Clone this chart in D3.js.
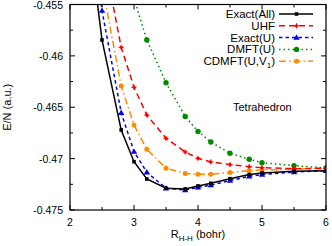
<!DOCTYPE html>
<html>
<head>
<meta charset="utf-8">
<script src="https://cdn.jsdelivr.net/npm/d3@7"></script>
<style>
  body { margin: 0; background: #fff; }
  text { font-family: "Liberation Sans", Arial, sans-serif; }
</style>
</head>
<body>
<svg width="332" height="246"></svg>
<script>
// distances (bohr)
var rAll  = [2.4, 2.5, 2.8, 3.0, 3.2, 3.5, 3.8, 4.0, 4.2, 4.5, 4.8, 5.0, 5.5, 6.0];
var rUHF  = [2.5, 2.8, 3.0, 3.2, 3.5, 3.8, 4.0, 4.2, 4.5, 4.8, 5.0, 5.5, 6.0];
var rDMFT = [3.0, 3.2, 3.5, 3.8, 4.0, 4.2, 4.5, 4.8, 5.0, 5.5, 6.0];
var rCD   = [2.5, 2.8, 3.0, 3.2, 3.5, 3.8, 4.0, 4.2, 4.5, 4.8, 5.0, 5.5, 6.0];

var exactAll = [-0.4535, -0.45845, -0.46721, -0.4703, -0.47198, -0.47288, -0.47295, -0.47266, -0.4724, -0.47195, -0.47155, -0.4714, -0.47122, -0.47117];
var exactU   = [-0.4505, -0.4556, -0.46553, -0.46932, -0.47133, -0.47288, -0.47305, -0.4728, -0.47258, -0.47214, -0.47172, -0.47155, -0.4713, -0.47118];
var uhf      = [-0.4495, -0.45916, -0.46306, -0.46575, -0.46802, -0.46935, -0.46997, -0.47032, -0.47058, -0.47078, -0.47088, -0.47098, -0.47095];
var dmft     = [-0.4544, -0.45845, -0.46261, -0.4659, -0.46735, -0.46838, -0.46948, -0.47006, -0.47039, -0.47068, -0.4709];
var cdmft    = [-0.453, -0.46293, -0.46672, -0.46909, -0.47094, -0.47145, -0.47152, -0.47152, -0.47135, -0.47117, -0.4711, -0.47104, -0.4709];

var xTicks = [2, 3, 4, 5, 6];
var yTicks = [-0.455, -0.46, -0.465, -0.47, -0.475];
var yTickLabels = ["-0.455", "-0.46", "-0.465", "-0.47", "-0.475"];

var series = [
  {name: "Exact(All)", x: rAll, y: exactAll, color: "#000000", dash: null, mark: "square"},
  {name: "UHF", x: rUHF, y: uhf, color: "#ff0000", dash: "6,4", mark: "plus"},
  {name: "Exact(U)", x: rAll, y: exactU, color: "#0000ff", dash: "3.5,3", mark: "triangle"},
  {name: "DMFT(U)", x: rDMFT, y: dmft, color: "#008a00", dash: "1.5,3", mark: "circle"},
  {name: "CDMFT(U,V", sub: "1", x: rCD, y: cdmft, color: "#ff8c00", dash: "7,3,1.5,3", mark: "dot"}
];

var svg = d3.select("svg"),
    pLeft = 70, pRight = 326, pTop = 4.5, pBottom = 210;

var x = d3.scaleLinear().domain([2, 6]).range([pLeft, pRight]);
var y = d3.scaleLinear().domain([-0.475, -0.455]).range([pBottom, pTop]);

svg.append("defs").append("clipPath").attr("id", "clip")
  .append("rect").attr("x", pLeft).attr("y", pTop)
  .attr("width", pRight - pLeft).attr("height", pBottom - pTop);

// ticks, inward on all four sides
var ticks = svg.append("g").attr("stroke", "#000").attr("stroke-width", 1);
d3.range(2, 6.01, 0.5).forEach(function(v) {
  var major = Math.abs(v - Math.round(v)) < 1e-6, len = major ? 5 : 3;
  ticks.append("line").attr("x1", x(v)).attr("x2", x(v)).attr("y1", pBottom).attr("y2", pBottom - len);
  ticks.append("line").attr("x1", x(v)).attr("x2", x(v)).attr("y1", pTop).attr("y2", pTop + len);
});
d3.range(0, 9).forEach(function(i) {
  var v = -0.475 + i * 0.0025, len = i % 2 == 0 ? 5 : 3;
  ticks.append("line").attr("x1", pLeft).attr("x2", pLeft + len).attr("y1", y(v)).attr("y2", y(v));
  ticks.append("line").attr("x1", pRight).attr("x2", pRight - len).attr("y1", y(v)).attr("y2", y(v));
});

svg.append("g").selectAll("text").data(xTicks).enter().append("text")
  .attr("x", function(d) { return x(d); }).attr("y", 226)
  .attr("text-anchor", "middle").attr("font-size", 10.5)
  .text(function(d) { return d; });

svg.append("g").selectAll("text").data(yTicks).enter().append("text")
  .attr("x", 63).attr("y", function(d) { return y(d) + 4; })
  .attr("text-anchor", "end").attr("font-size", 10.5)
  .text(function(d, i) { return yTickLabels[i]; });

var xl = svg.append("text").attr("x", (pLeft + pRight) / 2).attr("y", 238)
  .attr("text-anchor", "middle").attr("font-size", 11);
xl.append("tspan").text("R");
xl.append("tspan").attr("font-size", 8).attr("dy", 3).text("H-H");
xl.append("tspan").attr("dy", -3).text(" (bohr)");

svg.append("text").attr("transform", "translate(11," + (pTop + pBottom) / 2 + ") rotate(-90)")
  .attr("text-anchor", "middle").attr("font-size", 11).text("E/N (a.u.)");

function marker(g, kind, cx, cy, color) {
  if (kind == "square") {
    g.append("rect").attr("x", cx - 1.8).attr("y", cy - 1.8).attr("width", 3.6).attr("height", 3.6).attr("fill", color);
  } else if (kind == "triangle") {
    g.append("path").attr("d", "M" + cx + "," + (cy - 3.2) + "L" + (cx + 3.2) + "," + (cy + 2.2) + "L" + (cx - 3.2) + "," + (cy + 2.2) + "Z").attr("fill", color);
  } else if (kind == "plus") {
    g.append("circle").attr("cx", cx).attr("cy", cy).attr("r", 1.6).attr("fill", color);
    g.append("path").attr("d", "M" + (cx - 2.6) + "," + cy + "H" + (cx + 2.6) + "M" + cx + "," + (cy - 2.6) + "V" + (cy + 2.6))
      .attr("stroke", color).attr("stroke-width", 1);
  } else if (kind == "circle") {
    g.append("circle").attr("cx", cx).attr("cy", cy).attr("r", 2.7).attr("fill", color);
  } else {
    g.append("circle").attr("cx", cx).attr("cy", cy).attr("r", 2.5).attr("fill", color);
  }
}

var plot = svg.append("g").attr("clip-path", "url(#clip)");
var line = d3.line().x(function(d) { return x(d[0]); }).y(function(d) { return y(d[1]); });

series.slice().reverse().forEach(function(s) {
  var pts = s.x.map(function(v, i) { return [v, s.y[i]]; });
  plot.append("path").datum(pts).attr("d", line)
    .attr("fill", "none").attr("stroke", s.color).attr("stroke-width", 1.5)
    .attr("stroke-dasharray", s.dash);
  var mg = plot.append("g");
  pts.forEach(function(p) { marker(mg, s.mark, x(p[0]), y(p[1]), s.color); });
});

// frame
svg.append("rect").attr("x", pLeft).attr("y", pTop).attr("width", pRight - pLeft).attr("height", pBottom - pTop)
  .attr("fill", "none").attr("stroke", "#000").attr("stroke-width", 1.2);

// legend
var leg = svg.append("g");
series.forEach(function(s, i) {
  var ly = 14 + i * 11.8;
  var t = leg.append("text").attr("x", 275).attr("y", ly + 4).attr("text-anchor", "end").attr("font-size", 11.5);
  t.append("tspan").text(s.name);
  if (s.sub) {
    t.append("tspan").attr("font-size", 8).attr("dy", 3).text(s.sub);
    t.append("tspan").attr("dy", -3).text(")");
  }
  leg.append("line").attr("x1", 279).attr("x2", 313).attr("y1", ly).attr("y2", ly)
    .attr("stroke", s.color).attr("stroke-width", 1.5).attr("stroke-dasharray", s.dash);
  marker(leg, s.mark, 296.5, ly, s.color);
});

svg.append("text").attr("x", 233).attr("y", 110.5).attr("font-size", 11).text("Tetrahedron");
</script>
</body>
</html>
